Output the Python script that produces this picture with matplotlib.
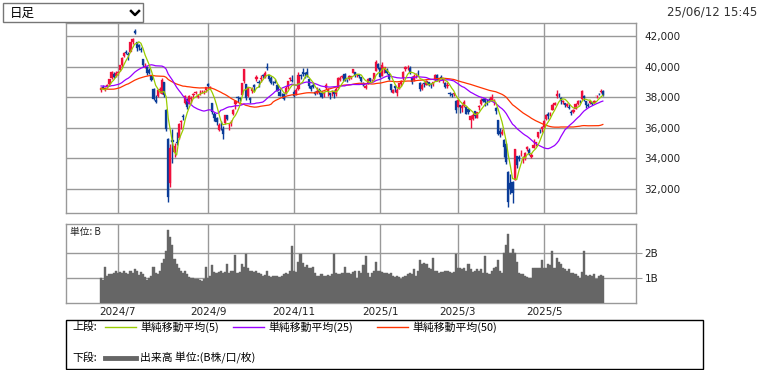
import matplotlib.pyplot as plt
import matplotlib.lines as mlines
import matplotlib.patches as mpatches
import numpy as np
import pandas as pd

# 取引日 (月ごと)
months = ["2024-06", "2024-07", "2024-08", "2024-09", "2024-10", "2024-11", "2024-12",
          "2025-01", "2025-02", "2025-03", "2025-04", "2025-05", "2025-06"]
month_days = [
    [19, 20, 21, 24, 25, 26, 27, 28],
    [1, 2, 3, 4, 5, 8, 9, 10, 11, 12, 16, 17, 18, 19, 22, 23, 24, 25, 26, 29, 30, 31],
    [1, 2, 5, 6, 7, 8, 9, 13, 14, 15, 16, 19, 20, 21, 22, 23, 26, 27, 28, 29, 30],
    [2, 3, 4, 5, 6, 9, 10, 11, 12, 13, 17, 18, 19, 20, 24, 25, 26, 27, 30],
    [1, 2, 3, 4, 7, 8, 9, 10, 11, 15, 16, 17, 18, 21, 22, 23, 24, 25, 28, 29, 30, 31],
    [1, 5, 6, 7, 8, 11, 12, 13, 14, 15, 18, 19, 20, 21, 22, 25, 26, 27, 28, 29],
    [2, 3, 4, 5, 6, 9, 10, 11, 12, 13, 16, 17, 18, 19, 20, 23, 24, 25, 26, 27, 30],
    [6, 7, 8, 9, 10, 14, 15, 16, 17, 20, 21, 22, 23, 24, 27, 28, 29, 30, 31],
    [3, 4, 5, 6, 7, 10, 12, 13, 14, 17, 18, 19, 20, 21, 25, 26, 27, 28],
    [3, 4, 5, 6, 7, 10, 11, 12, 13, 14, 17, 18, 19, 21, 24, 25, 26, 27, 28, 31],
    [1, 2, 3, 4, 7, 8, 9, 10, 11, 14, 15, 16, 17, 18, 21, 22, 23, 24, 25, 28, 30],
    [1, 2, 7, 8, 9, 12, 13, 14, 15, 16, 19, 20, 21, 22, 23, 26, 27, 28, 29, 30],
    [2, 3, 4, 5, 6, 9, 10, 11, 12],
]

# 移動平均用の前期間の終値 (2024/4/8 - 6/18)
pre_closes = [39347, 39773, 39581, 39442, 39523, 39232, 38471, 37962, 38079, 37068, 37438, 37552,
              38460, 37628, 37934, 38405,
              38274, 38236, 38835, 38202, 38073, 38229, 38179, 38356, 38385, 38920, 38787, 39069,
              38946, 38617, 39103, 38646, 38900, 38855, 38556, 38054, 38487,
              38923, 38837, 38490, 38703, 38683, 39038, 39134, 38876, 38720, 38814, 38102, 38482]

opens = [
    38480, 38690, 38560, 38650, 38830, 39230, 39530, 39400,
    39570, 39770, 40080, 40720, 40950, 40850, 40950, 41600, 42310, 41610, 41380, 41170, 40510, 40000, 39980, 39800, 39430, 38560, 37830, 38060, 38460, 38230,
    39000, 37170, 35250, 32400, 35200, 34420, 35100, 35350, 36390, 36750, 37600, 37900, 37580, 37880, 38170, 38280, 38020, 38260, 38310, 38320, 38470,
    38830, 38600, 37600, 36930, 36650, 35860, 36210, 35900, 36310, 36810, 36160, 36290, 36930, 37530, 38000, 37930, 38160, 39030, 38870,
    38050, 37960, 38380, 38780, 39210, 38990, 39160, 39480, 39340, 39980, 39450, 39280, 38990, 39010, 38820, 38330, 38170, 38210, 38230, 38690, 39170, 39120,
    38330, 38190, 38510, 39470, 39640, 39610, 39640, 39160, 38730, 38790, 38340, 38260, 38480, 38250, 38200, 38580, 38420, 38260, 38340, 38340,
    38220, 38590, 39150, 39320, 39510, 39180, 39210, 39230, 39570, 39640, 39430, 39450, 39290, 38850, 38610, 38880, 39230, 39100, 39180, 39720, 40200,
    39930, 39380, 39830, 39750, 39530, 38870, 38300, 38740, 38280, 38550, 38870, 39230, 39870, 39880, 39940, 39330, 39140, 39500, 39600,
    38900, 38520, 38940, 38800, 39000, 38830, 38870, 39150, 39480, 39040, 39280, 39100, 38930, 38740, 38270, 38230, 38210, 37730,
    37380, 37480, 37320, 37400, 37350, 37200, 36500, 36550, 37130, 36660, 37340, 37530, 37870, 37890, 37620, 37800, 37840, 37760, 37300, 36480,
    35760, 35610, 35200, 34930, 33100, 32400, 32450, 32600, 34150, 34100, 34260, 33900, 34000, 34600, 34550, 34100, 34700, 35020, 35400, 35850, 35900,
    36070, 36550, 36900, 36900, 37180, 37500, 38100, 38160, 37950, 37700, 37630, 37400, 37350, 37020, 37000, 37250, 37550, 37780, 37850, 38100,
    37750, 37500, 37600, 37680, 37620, 38050, 38220, 38330, 38410,
]
highs = [
    38650, 38800, 38680, 38830, 39190, 39690, 39620, 39680,
    39720, 40130, 40630, 40970, 41100, 40970, 41600, 41840, 42430, 41640, 41480, 41290, 40510, 40250, 40010, 39890, 39480, 38580, 38140, 38560, 38670, 39280,
    39000, 37220, 35300, 34910, 35890, 35030, 35700, 36340, 36530, 36900, 38130, 37930, 38140, 38080, 38250, 38390, 38230, 38460, 38440, 38500, 38690,
    38900, 38730, 37640, 37030, 36700, 36330, 36440, 36130, 36860, 36830, 36330, 36480, 37240, 37840, 38100, 38020, 38950, 39830, 38890,
    38690, 38010, 38650, 38880, 39470, 39140, 39420, 39520, 39680, 40260, 39460, 39380, 39090, 39190, 38860, 38550, 38250, 38300, 38720, 39040, 39340, 39420,
    38500, 38570, 39660, 39540, 39880, 39640, 39880, 39210, 38800, 38930, 38430, 38650, 38620, 38400, 38410, 38940, 38600, 38300, 38450, 38480,
    38650, 39300, 39380, 39480, 39560, 39200, 39480, 39400, 39860, 39650, 39520, 39540, 39330, 39000, 38870, 39230, 39280, 39170, 39580, 40400, 40210,
    39980, 40290, 40000, 39880, 39570, 38870, 38530, 38790, 38570, 38930, 39110, 39690, 40040, 40110, 40020, 39360, 39500, 39610, 39790,
    38980, 38910, 38990, 39130, 39000, 38900, 38990, 39500, 39490, 39280, 39440, 39200, 38970, 39000, 38350, 38270, 38300, 37790,
    37850, 37480, 37560, 37790, 37440, 37210, 36850, 36950, 37130, 37060, 37480, 37950, 37980, 37890, 37870, 37980, 38220, 37890, 37340, 36480,
    36010, 35900, 35240, 34980, 33170, 33000, 32500, 34640, 34170, 34250, 34560, 34140, 34400, 34800, 34680, 34340, 35280, 35100, 35730, 35890, 36100,
    36480, 36890, 37010, 37050, 37530, 37710, 38490, 38300, 38000, 37830, 37640, 37600, 37530, 37150, 37230, 37600, 37800, 37820, 38450, 38120,
    37760, 37590, 37760, 37710, 37800, 38140, 38290, 38530, 38440,
]
lows = [
    38340, 38520, 38420, 38590, 38780, 39170, 39230, 39350,
    39420, 39680, 40000, 40650, 40800, 40450, 40930, 41500, 42130, 41050, 41080, 40960, 39980, 39910, 39480, 39510, 39070, 37830, 37610, 38030, 38250, 38190,
    37990, 35800, 31160, 32130, 33670, 34110, 34900, 35290, 35900, 36500, 37530, 37230, 37560, 37650, 37950, 38180, 37920, 38140, 38260, 38200, 38370,
    38610, 38510, 36920, 36440, 36200, 35810, 35870, 35250, 36280, 36510, 35870, 36090, 36840, 37260, 37690, 37760, 38140, 38920, 37810,
    37990, 37650, 38300, 38430, 39070, 38690, 39020, 39270, 39270, 39750, 39060, 38860, 38810, 38900, 38380, 38070, 37970, 37810, 38200, 38540, 39030, 38970,
    38000, 38120, 38500, 39160, 39410, 39270, 39330, 38570, 38400, 38580, 38130, 38230, 38230, 37960, 38030, 38560, 38100, 37880, 38060, 37920,
    38050, 38580, 39060, 39230, 39040, 38970, 39130, 39190, 39550, 39350, 39290, 39260, 39000, 38700, 38560, 38860, 38990, 38990, 39130, 39720, 39860,
    39300, 39360, 39600, 39540, 39150, 38370, 38250, 38370, 38050, 38530, 38730, 39120, 39730, 39760, 39500, 38870, 39060, 39260, 39410,
    38400, 38450, 38670, 38790, 38730, 38580, 38700, 39050, 39080, 38970, 39190, 38940, 38570, 38610, 38080, 38020, 38050, 36980,
    37380, 36950, 37040, 37340, 36890, 36890, 35990, 36520, 36650, 36640, 37160, 37500, 37700, 37420, 37490, 37670, 37780, 37500, 36920, 35550,
    35400, 35500, 34100, 33650, 30790, 31700, 31060, 32600, 33400, 33800, 34140, 33720, 33870, 34500, 34200, 34050, 34700, 34790, 35350, 35660, 35730,
    35960, 36490, 36580, 36800, 37140, 37460, 37980, 38000, 37580, 37560, 37380, 37330, 37250, 36860, 36970, 37220, 37480, 37620, 37800, 37750,
    37270, 37340, 37550, 37480, 37590, 37950, 38130, 38250, 38100,
]
closes = [
    38570, 38633, 38596, 38804, 39173, 39667, 39341, 39583,
    39631, 40074, 40580, 40913, 40912, 40780, 41580, 41831, 42224, 41190, 41275, 41097, 40126, 40063, 39599, 39594, 39154, 37869, 37667, 38468, 38525, 39101,
    38126, 35909, 31458, 34675, 35089, 34831, 35025, 36232, 36442, 36726, 38062, 37388, 38063, 37951, 38211, 38364, 38110, 38288, 38371, 38362, 38647,
    38700, 38686, 37047, 36657, 36391, 36159, 36159, 35620, 36833, 36581, 36203, 36380, 37155, 37724, 37941, 37870, 38926, 39830, 37920,
    38651, 37808, 38552, 38636, 39333, 38938, 39278, 39381, 39606, 39911, 39181, 38911, 38982, 38955, 38412, 38105, 38143, 37914, 38605, 39028, 39277, 39081,
    38054, 38474, 39480, 39381, 39500, 39533, 39376, 38721, 38536, 38642, 38220, 38415, 38352, 38026, 38284, 38780, 38442, 38134, 38349, 38208,
    38513, 39248, 39276, 39395, 39091, 39160, 39367, 39372, 39849, 39470, 39457, 39364, 39081, 38813, 38701, 39161, 39036, 39130, 39568, 40281, 39894,
    39307, 40083, 39981, 39605, 39190, 38474, 38445, 38572, 38451, 38902, 39027, 39646, 39958, 39931, 39566, 39016, 39414, 39513, 39572,
    38520, 38798, 38831, 39066, 38787, 38801, 38963, 39461, 39149, 39174, 39270, 39164, 38678, 38776, 38237, 38142, 38256, 37155,
    37785, 37331, 37418, 37704, 36887, 37028, 36793, 36819, 36790, 37053, 37396, 37845, 37751, 37677, 37608, 37780, 38027, 37799, 37120, 35617,
    35624, 35725, 34735, 33780, 31136, 32012, 31714, 34609, 33585, 33982, 34267, 33920, 34377, 34730, 34279, 34220, 34868, 35039, 35705, 35839, 36045,
    36452, 36830, 36779, 36928, 37503, 37644, 38183, 38128, 37755, 37753, 37498, 37529, 37298, 36985, 37160, 37532, 37724, 37722, 38432, 37965,
    37470, 37446, 37747, 37554, 37741, 38089, 38211, 38421, 38173,
]
# 出来高 (B株)
volumes = [
    1.0, 0.93, 1.45, 1.08, 1.15, 1.18, 1.2, 1.28,
    1.2, 1.25, 1.2, 1.3, 1.22, 1.18, 1.28, 1.22, 1.35, 1.3, 1.12, 1.25, 1.15, 1.05, 0.92, 1.0, 1.1, 1.45, 1.2, 1.15, 1.3, 1.6,
    1.75, 2.05, 2.88, 2.62, 2.3, 1.75, 1.55, 1.4, 1.3, 1.2, 1.3, 1.15, 1.05, 1.0, 1.02, 0.98, 0.95, 0.93, 0.9, 0.95, 1.45,
    1.0, 1.1, 1.5, 1.25, 1.2, 1.25, 1.3, 1.2, 1.25, 1.55, 1.2, 1.3, 1.3, 1.9, 1.2, 1.25, 1.55, 1.45, 1.95,
    1.4, 1.3, 1.3, 1.25, 1.3, 1.2, 1.15, 1.1, 1.12, 1.3, 1.1, 1.05, 1.1, 1.08, 1.1, 1.05, 1.08, 1.15, 1.2, 1.15, 1.3, 2.25,
    1.3, 1.25, 1.65, 1.95, 1.6, 1.45, 1.5, 1.4, 1.4, 1.45, 1.2, 1.1, 1.1, 1.15, 1.1, 1.1, 1.12, 1.1, 1.15, 1.95,
    1.2, 1.15, 1.15, 1.2, 1.45, 1.2, 1.2, 1.15, 1.25, 1.3, 1.0, 1.3, 1.2, 1.5, 1.88, 1.2, 1.05, 1.2, 1.3, 1.65, 1.3,
    1.3, 1.25, 1.2, 1.2, 1.18, 1.2, 1.1, 1.05, 1.1, 1.05, 0.95, 1.05, 1.1, 1.15, 1.2, 1.15, 1.35, 1.1, 1.3,
    1.7, 1.55, 1.6, 1.55, 1.4, 1.35, 1.8, 1.3, 1.3, 1.2, 1.25, 1.25, 1.3, 1.3, 1.25, 1.2, 1.25, 1.95,
    1.4, 1.4, 1.35, 1.4, 1.3, 1.55, 1.35, 1.25, 1.3, 1.35, 1.3, 1.35, 1.2, 1.88, 1.2, 1.15, 1.3, 1.4, 1.45, 1.7,
    1.3, 1.2, 2.0, 2.3, 2.72, 2.0, 2.15, 2.0, 1.65, 1.2, 1.15, 1.15, 1.1, 1.05, 1.02, 1.0, 1.4, 1.4, 1.38, 1.4, 1.7,
    1.4, 1.4, 1.55, 1.5, 2.05, 1.4, 1.8, 1.65, 1.55, 1.4, 1.35, 1.3, 1.35, 1.2, 1.2, 1.15, 1.1, 1.0, 1.25, 2.07,
    1.12, 1.1, 1.12, 1.1, 1.15, 0.98, 1.1, 1.12, 1.1,
]

tick_months = ["2024-07", "2024-09", "2024-11", "2025-01", "2025-03", "2025-05"]
tick_labels = ["2024/7", "2024/9", "2024/11", "2025/1", "2025/3", "2025/5"]
price_ticks = [32000, 34000, 36000, 38000, 40000, 42000]

dates = [f"{m}-{d:02d}" for m, ds in zip(months, month_days) for d in ds]
assert len(dates) == len(opens) == len(highs) == len(lows) == len(closes) == len(volumes)

JP = 'Noto Sans CJK JP'
plt.rcParams['font.family'] = ['DejaVu Sans', JP]

RED = '#f0103c'
BLUE = '#0a3c98'
GRID = '#999999'
W, H = 761, 370


def box(l, t, r, b):
    # ピクセル座標 -> figure座標
    return [l / W, 1 - b / H, (r - l) / W, (b - t) / H]


fig = plt.figure(figsize=(W / 100, H / 100), dpi=100)
ax = fig.add_axes(box(66, 23, 636, 213))
axv = fig.add_axes(box(66, 224, 636, 303))

x = np.arange(len(dates))
o = np.array(opens)
c = np.array(closes)
hi = np.array(highs)
lo = np.array(lows)
col = np.where(c >= o, RED, BLUE)

tick_idx = [next(i for i, d in enumerate(dates) if d.startswith(m)) for m in tick_months]

# 上段: ローソク足 + 移動平均
ax.vlines(x, lo, hi, colors=col, lw=1.0, zorder=3)
ax.bar(x, np.maximum(np.abs(c - o), 30), bottom=np.minimum(o, c), width=1.05,
       color=col, edgecolor=col, linewidth=0.2, zorder=3)

s = pd.Series(pre_closes + closes, dtype=float)
n0 = len(pre_closes)
for win, lc in [(50, '#ff3300'), (25, '#9900ff'), (5, '#99cc00')]:
    ma = s.rolling(win).mean().iloc[n0:].to_numpy()
    ax.plot(x, ma, color=lc, lw=0.9, zorder=4)

ax.set_xlim(-16.7, 254.8)
ax.set_ylim(30430, 42850)
ax.set_xticks(tick_idx)
ax.set_xticklabels([])
ax.set_yticks(price_ticks)
ax.set_yticklabels([f"{v:,}" for v in price_ticks])
ax.yaxis.tick_right()
ax.tick_params(axis='both', length=0, labelsize=7.5, colors='#222222', pad=6)
ax.grid(True, color=GRID, lw=1.0, zorder=0)

# 下段: 出来高
axv.bar(x, volumes, width=1.0, color='#666666', edgecolor='#666666', linewidth=0.3, zorder=3)
axv.set_xlim(-16.7, 254.8)
axv.set_ylim(0.03, 3.12)
axv.set_yticks([1, 2])
axv.set_yticklabels(['1B', '2B'])
axv.yaxis.tick_right()
axv.set_xticks(tick_idx)
axv.set_xticklabels(tick_labels)
axv.tick_params(axis='y', length=4, color=GRID, labelsize=7.5, colors='#222222', pad=2)
axv.tick_params(axis='x', length=0, labelsize=7.5, colors='#222222', pad=3)
axv.grid(True, color=GRID, lw=1.0, zorder=0)

for a in (ax, axv):
    for sp in a.spines.values():
        sp.set_color(GRID)
        sp.set_linewidth(1.0)

fig.text(70 / W, 1 - 232 / H, "単位: B", fontsize=7, family=JP, va='center', color='#222222')

# 凡例枠
fig.add_artist(mpatches.Rectangle((66 / W, 1 - 369 / H), (703 - 66) / W, (369 - 320) / H,
                                  transform=fig.transFigure, fill=False, ec='black', lw=1.0))
fig.text(72 / W, 1 - 327 / H, "上段:", fontsize=7.8, family=JP, va='center')
fig.text(72 / W, 1 - 358 / H, "下段:", fontsize=7.8, family=JP, va='center')
for x0, lc, label in [(105, '#99cc00', "単純移動平均(5)"),
                      (233, '#9900ff', "単純移動平均(25)"),
                      (377, '#ff3300', "単純移動平均(50)")]:
    fig.add_artist(mlines.Line2D([x0 / W, (x0 + 31) / W], [1 - 327 / H] * 2, color=lc, lw=1.0))
    fig.text((x0 + 35) / W, 1 - 327 / H, label, fontsize=7.8, family=JP, va='center')
fig.add_artist(mlines.Line2D([105 / W, 136 / W], [1 - 358 / H] * 2, color='#666666', lw=3.5))
fig.text(140 / W, 1 - 358 / H, "出来高 単位:(B株/口/枚)", fontsize=7.8, family=JP, va='center')

# 日足 セレクトボックス
fig.add_artist(mpatches.Rectangle((3 / W, 1 - 22 / H), 140 / W, 19 / H,
                                  transform=fig.transFigure, fill=False, ec='#767676', lw=1.0))
fig.text(10 / W, 1 - 13 / H, "日足", fontsize=9, family=JP, va='center')
fig.add_artist(mlines.Line2D([131 / W, 135 / W, 139 / W], [1 - 11 / H, 1 - 15 / H, 1 - 11 / H],
                             color='black', lw=1.8))

fig.text(757 / W, 1 - 12 / H, "25/06/12 15:45", fontsize=8.5, ha='right', va='center', color='#333333')

fig.savefig('out.png', dpi=100)
